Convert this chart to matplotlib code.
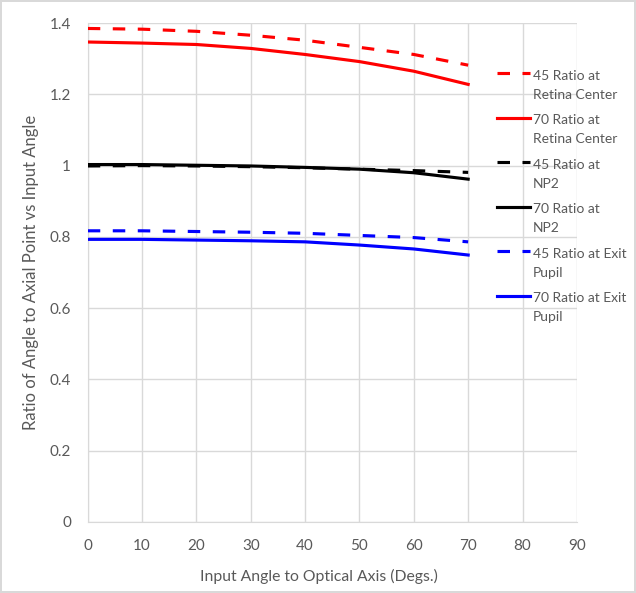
import matplotlib.pyplot as plt
from matplotlib.legend_handler import HandlerLine2D
import numpy as np

plt.rcParams['font.family'] = ['Lato', 'DejaVu Sans']

# data
angles = [0, 10, 20, 30, 40, 50, 60, 70]
retina_45 = [1.385, 1.383, 1.377, 1.366, 1.352, 1.332, 1.312, 1.282]
retina_70 = [1.347, 1.344, 1.340, 1.329, 1.312, 1.292, 1.265, 1.228]
np2_45 = [0.999, 1.000, 0.999, 0.997, 0.994, 0.990, 0.986, 0.981]
np2_70 = [1.003, 1.003, 1.001, 0.999, 0.995, 0.990, 0.980, 0.962]
exit_45 = [0.817, 0.817, 0.815, 0.813, 0.810, 0.804, 0.798, 0.786]
exit_70 = [0.793, 0.793, 0.791, 0.789, 0.786, 0.777, 0.766, 0.749]

series = [
    (retina_45, 'red', '45 Ratio at\nRetina Center', True),
    (retina_70, 'red', '70 Ratio at\nRetina Center', False),
    (np2_45, 'black', '45 Ratio at\nNP2', True),
    (np2_70, 'black', '70 Ratio at\nNP2', False),
    (exit_45, 'blue', '45 Ratio at Exit\nPupil', True),
    (exit_70, 'blue', '70 Ratio at Exit\nPupil', False),
]


# legend line sits next to the first text line, like Excel does
class TopLineHandler(HandlerLine2D):
    def create_artists(self, legend, orig_handle, xdescent, ydescent,
                       width, height, fontsize, trans):
        arts = super().create_artists(legend, orig_handle, xdescent, ydescent,
                                      width, height, fontsize, trans)
        for a in arts:
            a.set_ydata(np.asarray(a.get_ydata()) + 0.85 * fontsize)
        return arts


fig = plt.figure(figsize=(6.36, 5.93), dpi=100)
fig.patch.set_edgecolor('#d9d9d9')
fig.patch.set_linewidth(1.5)
ax = fig.add_axes([0.138, 0.12, 0.769, 0.841])

for vals, col, lab, dashed in series:
    ls = (0, (4, 4)) if dashed else '-'
    ax.plot(angles, vals, color=col, lw=2.25, ls=ls, label=lab, zorder=3)

ax.set_xlim(0, 90)
ax.set_ylim(0, 1.4)
ax.set_xticks(np.arange(0, 91, 10))
ax.set_yticks([0, 0.2, 0.4, 0.6, 0.8, 1.0, 1.2, 1.4])
ax.set_yticklabels(['0', '0.2', '0.4', '0.6', '0.8', '1', '1.2', '1.4'])
ax.grid(True, color='#d9d9d9', lw=1)
ax.set_axisbelow(True)
ax.tick_params(length=0, labelsize=11, labelcolor='#595959', pad=12)
for s in ['top', 'right']:
    ax.spines[s].set_visible(False)
for s in ['left', 'bottom']:
    ax.spines[s].set_color('#d9d9d9')

ax.set_xlabel('Input Angle to Optical Axis (Degs.)', fontsize=11.3, color='#595959', labelpad=12)
ax.xaxis.set_label_coords(0.472, -0.095)
ax.set_ylabel('Ratio of Angle to Axial Point vs Input Angle', fontsize=12, color='#595959', labelpad=8)

leg = fig.legend(loc='upper left', bbox_to_anchor=(0.781, 0.8826), frameon=False,
                 fontsize=10, handlelength=2.4, handletextpad=0.2, labelspacing=0.97,
                 borderaxespad=0, borderpad=0,
                 handler_map={plt.Line2D: TopLineHandler()})
for t in leg.get_texts():
    t.set_color('#595959')
    t.set_linespacing(1.7)

fig.savefig('out.png', dpi=100)
